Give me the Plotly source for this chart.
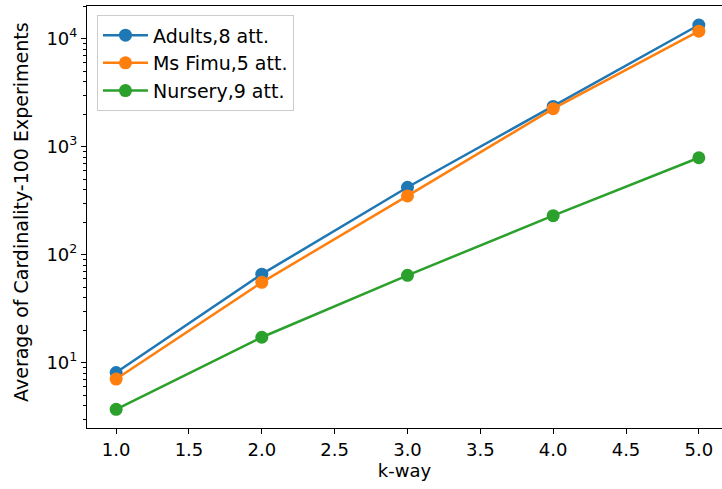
import plotly.graph_objects as go

k_way = [1.0, 2.0, 3.0, 4.0, 5.0]
adults = [8.1, 66, 421, 2360, 13400]
ms_fimu = [7.05, 55.5, 350, 2250, 11750]
nursery = [3.7, 17.2, 64.4, 230, 790]

series_names = ["Adults,8 att.", "Ms Fimu,5 att.", "Nursery,9 att."]
series_colors = ["#1f77b4", "#ff7f0e", "#2ca02c"]

x_tickvals = [1.0, 1.5, 2.0, 2.5, 3.0, 3.5, 4.0, 4.5, 5.0]
x_ticktext = ["1.0", "1.5", "2.0", "2.5", "3.0", "3.5", "4.0", "4.5", "5.0"]
y_tickvals = [10, 100, 1000, 10000]
y_ticktext = ["10<sup>1</sup>", "10<sup>2</sup>", "10<sup>3</sup>", "10<sup>4</sup>"]
y_minor = [m * 10 ** e for e in range(0, 5) for m in range(2, 10)]

x_title = "k-way"
y_title = "Average of Cardinality-100 Experiments"

FONT = "DejaVu Sans"
FS = 19
fig = go.Figure()
for name, vals, col in zip(series_names, [adults, ms_fimu, nursery], series_colors):
    fig.add_trace(go.Scatter(
        x=k_way, y=vals, name=name, mode="lines+markers",
        line=dict(color=col, width=2.5),
        marker=dict(color=col, size=13),
    ))

fig.update_layout(
    width=722, height=489,
    margin=dict(l=87, r=0, t=6, b=61, autoexpand=False),
    paper_bgcolor="white", plot_bgcolor="white",
    font=dict(family=FONT, size=FS, color="black"),
    showlegend=True,
    legend=dict(
        x=0.0157, y=0.978, xanchor="left", yanchor="top",
        bgcolor="rgba(255,255,255,0.8)", bordercolor="#cccccc", borderwidth=1,
        font=dict(family=FONT, size=FS),
        tracegroupgap=2, itemwidth=45,
    ),
    xaxis=dict(
        range=[0.8, 5.159], automargin=False,
        tickvals=x_tickvals, ticktext=x_ticktext,
        showgrid=False, zeroline=False,
        showline=True, linecolor="black", linewidth=1.2, mirror=True,
        ticks="outside", ticklen=5, tickwidth=1.2, tickcolor="black",
        tickfont=dict(family=FONT, size=FS - 1),
        title=dict(text=x_title, font=dict(family=FONT, size=FS - 1), standoff=4),
    ),
    yaxis=dict(
        type="log", range=[0.395, 4.303], automargin=False,
        tickvals=y_tickvals, ticktext=y_ticktext,
        showgrid=False, zeroline=False,
        showline=True, linecolor="black", linewidth=1.2, mirror=False,
        ticks="outside", ticklen=5, tickwidth=1.2, tickcolor="black",
        tickfont=dict(family=FONT, size=FS - 1),
        minor=dict(tickvals=y_minor, ticks="outside", ticklen=3, tickwidth=1, tickcolor="black", showgrid=False),
    ),
    annotations=[dict(
        text=y_title, textangle=-90, showarrow=False,
        xref="paper", yref="paper", x=0, y=0.512, xshift=-66,
        xanchor="center", yanchor="middle",
        font=dict(family=FONT, size=FS),
    )],
)

fig.write_html("out.html", config={"displayModeBar": False},
               post_script="document.body.style.margin='0px';")
